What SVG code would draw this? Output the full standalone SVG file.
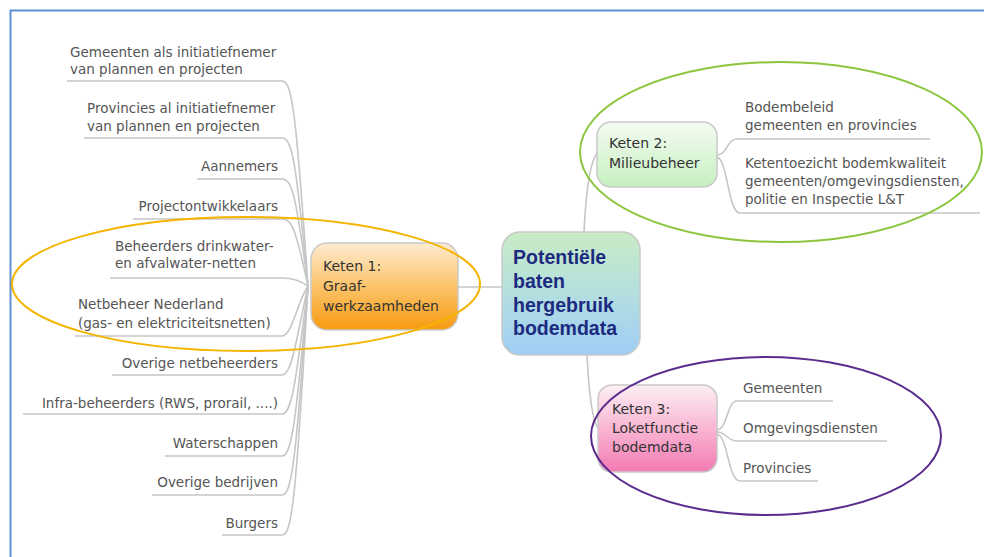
<svg xmlns="http://www.w3.org/2000/svg" width="984" height="557" viewBox="0 0 984 557">
<defs>
<linearGradient id="gOrange" x1="0" y1="0" x2="0" y2="1">
<stop offset="0" stop-color="#fdebd0"/><stop offset="0.5" stop-color="#fbc46a"/><stop offset="1" stop-color="#f79a10"/>
</linearGradient>
<linearGradient id="gCenter" x1="0" y1="0" x2="0" y2="1">
<stop offset="0" stop-color="#c9ecc4"/><stop offset="0.5" stop-color="#b4dfe0"/><stop offset="1" stop-color="#9fcdf5"/>
</linearGradient>
<linearGradient id="gGreen" x1="0" y1="0" x2="0" y2="1">
<stop offset="0" stop-color="#f4fbf2"/><stop offset="1" stop-color="#c6f0c0"/>
</linearGradient>
<linearGradient id="gPink" x1="0" y1="0" x2="0" y2="1">
<stop offset="0" stop-color="#fdeef4"/><stop offset="0.5" stop-color="#f9b6d3"/><stop offset="1" stop-color="#f27ab3"/>
</linearGradient>
</defs>
<style>
.leaf{font-family:"DejaVu Sans",Verdana,sans-serif;font-size:13.5px;fill:#555}
.end{text-anchor:end}
.kt{font-family:"DejaVu Sans",Verdana,sans-serif;font-size:14px;fill:#333}
.ct{font-family:"Liberation Sans",Arial,sans-serif;font-size:19.5px;font-weight:bold;fill:#1c2a80}
.ln{fill:none;stroke:#c6c6c6;stroke-width:1.6}
.box{stroke:#c9c9c9;stroke-width:1.5}
.ell{fill:none;stroke-width:2}
</style>
<path d="M10.5 557 V10.5 H984" fill="none" stroke="#5b8fcf" stroke-width="2"/>

<g id="connectors">
<path class="ln" d="M67 81 H282 C292 81 296 110 308 286"/>
<path class="ln" d="M84 138 H282 C292 138 296 160 308 286"/>
<path class="ln" d="M197 179 H282 C292 179 296 195 308 286"/>
<path class="ln" d="M133 219 H282 C292 219 296 230 308 286"/>
<path class="ln" d="M110 278 H282 C292 278 298 280 308 286"/>
<path class="ln" d="M75 336 H282 C292 336 298 300 308 286"/>
<path class="ln" d="M112 375 H282 C292 375 296 340 308 286"/>
<path class="ln" d="M23 414 H282 C292 414 296 380 308 286"/>
<path class="ln" d="M165 456 H282 C292 456 296 420 308 286"/>
<path class="ln" d="M152 495 H282 C292 495 296 460 308 286"/>
<path class="ln" d="M222 535 H282 C292 535 296 500 308 286"/>
<path class="ln" d="M457 287 H502"/>
<path class="ln" d="M584 232 C586 190 590 160 598 152" stroke="#d4c4d4"/>
<path class="ln" d="M587 355 C589 395 592 420 598 428"/>
<path class="ln" d="M717 155 C727 155 727 139 737 139 H930"/>
<path class="ln" d="M717 157 C728 160 728 213 740 213 H980"/>
<path class="ln" d="M717 430 C727 430 727 401 737 401 H833"/>
<path class="ln" d="M717 432 C727 432 727 441 737 441 H887"/>
<path class="ln" d="M717 434 C728 436 728 481 740 481 H818"/>
</g>

<g id="leaves-left">
<text class="leaf" x="70" y="57">Gemeenten als initiatiefnemer</text>
<text class="leaf" x="70" y="74">van plannen en projecten</text>
<text class="leaf" x="87" y="113">Provincies al initiatiefnemer</text>
<text class="leaf" x="87" y="131">van plannen en projecten</text>
<text class="leaf end" x="278" y="171">Aannemers</text>
<text class="leaf end" x="278" y="211">Projectontwikkelaars</text>
<text class="leaf" x="115" y="251">Beheerders drinkwater-</text>
<text class="leaf" x="115" y="268">en afvalwater-netten</text>
<text class="leaf" x="78" y="309">Netbeheer Nederland</text>
<text class="leaf" x="78" y="328">(gas- en elektriciteitsnetten)</text>
<text class="leaf end" x="278" y="368">Overige netbeheerders</text>
<text class="leaf end" x="278" y="408">Infra-beheerders (RWS, prorail, ....)</text>
<text class="leaf end" x="278" y="448">Waterschappen</text>
<text class="leaf end" x="278" y="487">Overige bedrijven</text>
<text class="leaf end" x="278" y="528">Burgers</text>
</g>

<g id="keten1">
<rect class="box" x="311" y="243" width="147" height="87" rx="16" fill="url(#gOrange)"/>
<text class="kt" x="323" y="271">Keten 1:</text>
<text class="kt" x="323" y="291">Graaf-</text>
<text class="kt" x="323" y="311">werkzaamheden</text>
</g>

<g id="center">
<rect class="box" x="502" y="232" width="138" height="123" rx="18" fill="url(#gCenter)"/>
<text class="ct" x="513" y="264">Potentiële</text>
<text class="ct" x="513" y="288">baten</text>
<text class="ct" x="513" y="312">hergebruik</text>
<text class="ct" x="513" y="335">bodemdata</text>
</g>

<g id="keten2">
<rect class="box" x="597" y="122" width="120" height="65" rx="14" fill="url(#gGreen)"/>
<text class="kt" x="609" y="148">Keten 2:</text>
<text class="kt" x="609" y="168">Milieubeheer</text>
</g>

<g id="keten2-leaves">
<text class="leaf" x="745" y="112">Bodembeleid</text>
<text class="leaf" x="745" y="130">gemeenten en provincies</text>
<text class="leaf" x="745" y="168">Ketentoezicht bodemkwaliteit</text>
<text class="leaf" x="745" y="186">gemeenten/omgevingsdiensten,</text>
<text class="leaf" x="745" y="204">politie en Inspectie L&amp;T</text>
</g>

<g id="keten3">
<rect class="box" x="598" y="385" width="119" height="87" rx="14" fill="url(#gPink)"/>
<text class="kt" x="612" y="414">Keten 3:</text>
<text class="kt" x="612" y="433">Loketfunctie</text>
<text class="kt" x="612" y="452">bodemdata</text>
</g>

<g id="keten3-leaves">
<text class="leaf" x="743" y="393">Gemeenten</text>
<text class="leaf" x="743" y="433">Omgevingsdiensten</text>
<text class="leaf" x="743" y="473">Provincies</text>
</g>

<g id="highlights">
<ellipse class="ell" cx="246" cy="284" rx="234" ry="67" stroke="#f4b400"/>
<ellipse class="ell" cx="781" cy="152" rx="201" ry="90" stroke="#8cc63f"/>
<ellipse class="ell" cx="766" cy="436" rx="175" ry="79" stroke="#5a2d8c"/>
</g>
</svg>
